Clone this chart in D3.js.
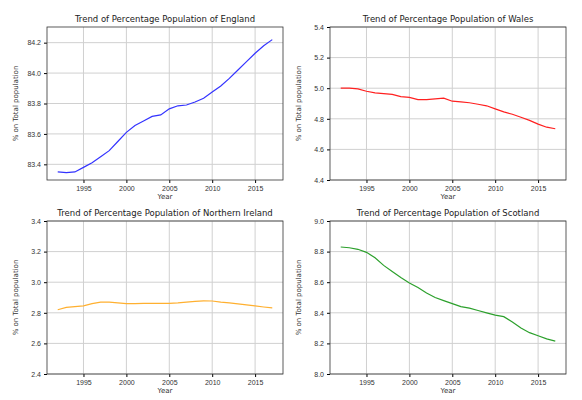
<!DOCTYPE html>
<html lang="en">
<head>
  <meta charset="UTF-8">
  <script src="https://d3js.org/d3.v7.min.js"></script>
  <style>
    body { margin: 0; background: #fff; font-family: "DejaVu Sans", sans-serif; }
    .tick text { font-size: 7px; fill: #333; }
    .grid line { stroke: #d0d0d0; }
  </style>
</head>
<body>
<script>
  // Data
  const years = d3.range(1992, 2018);
  const england = [83.35,83.345,83.35,83.38,83.41,83.45,83.49,83.55,83.61,83.655,83.685,83.715,83.725,83.765,83.785,83.79,83.81,83.835,83.875,83.915,83.965,84.02,84.075,84.13,84.18,84.22];
  const wales = [5.00,5.00,4.995,4.98,4.97,4.965,4.96,4.945,4.94,4.925,4.925,4.93,4.935,4.915,4.91,4.905,4.895,4.885,4.865,4.845,4.83,4.81,4.79,4.765,4.745,4.735];
  const nireland = [2.82,2.835,2.84,2.845,2.86,2.87,2.87,2.865,2.86,2.86,2.862,2.862,2.862,2.862,2.865,2.87,2.875,2.878,2.877,2.87,2.865,2.858,2.852,2.845,2.838,2.832];
  const scotland = [8.83,8.825,8.815,8.795,8.76,8.71,8.67,8.63,8.595,8.565,8.53,8.50,8.48,8.46,8.44,8.43,8.415,8.40,8.385,8.375,8.34,8.30,8.27,8.25,8.23,8.215];
  const xTicks = [1995, 2000, 2005, 2010, 2015];

  const svg = d3.select("body").append("svg").attr("width", 582).attr("height", 400);

  function panel(x0, y0, name, values, domain, ticks, color, fmt) {
    const w = 236, h = 153;
    const g = svg.append("g").attr("transform", `translate(${x0},${y0})`);
    const x = d3.scaleLinear().domain([1990.75, 2018.25]).range([0, w]);
    const y = d3.scaleLinear().domain(domain).range([h, 0]);

    g.append("g").attr("class", "grid")
      .selectAll("line.v").data(xTicks).enter().append("line")
      .attr("x1", d => x(d)).attr("x2", d => x(d)).attr("y1", 0).attr("y2", h);
    g.select(".grid").selectAll("line.h").data(ticks).enter().append("line")
      .attr("x1", 0).attr("x2", w).attr("y1", d => y(d)).attr("y2", d => y(d));

    g.append("path").datum(values)
      .attr("fill", "none").attr("stroke", color).attr("stroke-width", 1.2)
      .attr("d", d3.line().x((d, i) => x(years[i])).y(d => y(d)));

    g.append("g").attr("transform", `translate(0,${h})`)
      .call(d3.axisBottom(x).tickValues(xTicks).tickFormat(d3.format("d")).tickSize(3))
      .call(a => a.select(".domain").remove());
    g.append("g")
      .call(d3.axisLeft(y).tickValues(ticks).tickFormat(d3.format(fmt)).tickSize(3))
      .call(a => a.select(".domain").remove());

    g.append("rect").attr("width", w).attr("height", h)
      .attr("fill", "none").attr("stroke", "#333").attr("stroke-width", 0.8);

    g.append("text").attr("x", w / 2).attr("y", -5).attr("text-anchor", "middle")
      .style("font-size", "8.5px").attr("fill", "#222")
      .text("Trend of Percentage Population of " + name);
    g.append("text").attr("x", w / 2).attr("y", h + 19).attr("text-anchor", "middle")
      .style("font-size", "7px").attr("fill", "#333").text("Year");
    g.append("text").attr("transform", `translate(-29,${h / 2}) rotate(-90)`)
      .attr("text-anchor", "middle").style("font-size", "7px").attr("fill", "#333")
      .text("% on Total population");
  }

  panel(47, 27, "England", england, [83.297, 84.303], [83.4, 83.6, 83.8, 84.0, 84.2], "#3333ff", ".1f");
  panel(330, 27, "Wales", wales, [4.4, 5.4], [4.4, 4.6, 4.8, 5.0, 5.2, 5.4], "#ff2020", ".1f");
  panel(47, 221, "Northern Ireland", nireland, [2.4, 3.4], [2.4, 2.6, 2.8, 3.0, 3.2, 3.4], "#ffb030", ".1f");
  panel(330, 221, "Scotland", scotland, [8.0, 9.0], [8.0, 8.2, 8.4, 8.6, 8.8, 9.0], "#2ca02c", ".1f");
</script>
</body>
</html>
